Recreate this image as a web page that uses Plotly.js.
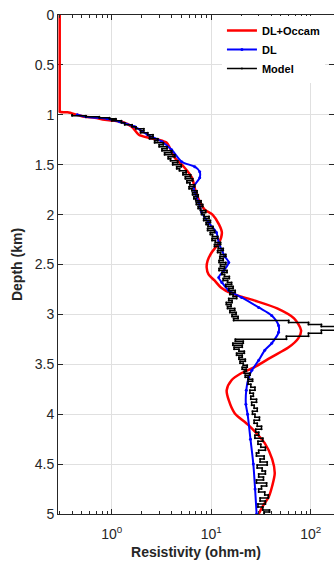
<!DOCTYPE html>
<html>
<head>
<meta charset="utf-8">
<script src="https://cdn.plot.ly/plotly-3.0.1.min.js"></script>
<style>html,body{margin:0;padding:0;background:#fff;}#chart{width:334px;height:563px;}</style>
</head>
<body>
<div id="chart"></div>
<script>
// DL+Occam (red) : depth (km) and resistivity (ohm-m)
var occamDepth = [0, 0.5, 0.96, 0.97, 0.975, 1.0, 1.02, 1.03, 1.05, 1.07, 1.12, 1.20, 1.23, 1.25, 1.28, 1.33, 1.43, 1.52, 1.63, 1.75, 1.85, 1.95, 2.00, 2.10, 2.18, 2.28, 2.38, 2.46, 2.53, 2.60, 2.66, 2.73, 2.79, 2.86, 2.94, 3.04, 3.16, 3.24, 3.33, 3.43, 3.53, 3.59, 3.66, 3.76, 3.86, 3.99, 4.11, 4.29, 4.45, 4.59, 4.72, 4.83, 4.92, 5.0];
var occamRes   = [0.30, 0.30, 0.30, 0.30, 0.36, 0.45, 0.535, 0.675, 0.85, 1.26, 1.59, 1.87, 2.35, 2.97, 3.57, 3.83, 4.3, 5.3, 6.4, 6.9, 7.5, 8.6, 10.3, 12.0, 12.8, 12.0, 10.1, 9.2, 9.0, 9.4, 10.8, 12.5, 16, 27, 46, 68, 80, 75, 60, 40, 27, 20, 16, 14.3, 15.0, 17.2, 23.7, 34.5, 41, 43.5, 41, 37.8, 33, 30];

// DL (blue)
var dlDepth = [1.0, 1.02, 1.04, 1.07, 1.12, 1.20, 1.27, 1.35, 1.47, 1.52, 1.57, 1.63, 1.73, 1.88, 1.98, 2.08, 2.18, 2.28, 2.42, 2.48, 2.56, 2.63, 2.68, 2.76, 2.83, 2.93, 3.01, 3.11, 3.18, 3.29, 3.36, 3.46, 3.56, 3.63, 3.76, 3.90, 4.00, 4.25, 4.50, 4.75, 5.0];
var dlRes   = [0.45, 0.55, 0.9, 1.2, 1.7, 2.3, 3.2, 4.0, 5.05, 6.83, 7.66, 7.66, 6.67, 7.5, 8.03, 9.4, 11.3, 11.9, 13.7, 15.0, 13.4, 11.9, 12.8, 15.0, 20.2, 30.0, 40.5, 47.5, 47.5, 40.5, 34.5, 30.0, 25.6, 23.8, 22.5, 22.3, 23.2, 24.8, 26.5, 27.6, 28.6];

// Model (black): layer top depth (km) and layer resistivity (ohm-m); last depth = bottom
var modelTop = [1.00, 1.01, 1.02, 1.03, 1.04, 1.05, 1.06, 1.08, 1.10, 1.12, 1.14, 1.16, 1.18, 1.20, 1.22, 1.24, 1.26, 1.28, 1.30, 1.32, 1.34, 1.36, 1.38, 1.40, 1.42, 1.44, 1.46, 1.48, 1.50, 1.52, 1.54, 1.56, 1.58, 1.60, 1.62, 1.64, 1.66, 1.68, 1.70, 1.72, 1.74, 1.76, 1.78, 1.80, 1.82, 1.84, 1.86, 1.88, 1.90, 1.92, 1.94, 1.96, 1.98, 2.00, 2.02, 2.04, 2.06, 2.08, 2.10, 2.12, 2.14, 2.16, 2.18, 2.20, 2.22, 2.24, 2.26, 2.28, 2.30, 2.32, 2.34, 2.36, 2.38, 2.40, 2.42, 2.44, 2.46, 2.48, 2.50, 2.52, 2.54, 2.56, 2.58, 2.60, 2.62, 2.64, 2.66, 2.68, 2.70, 2.72, 2.74, 2.76, 2.78, 2.80, 2.82, 2.84, 2.86, 2.88, 2.90, 2.92, 2.94, 2.96, 2.98, 3.00, 3.02, 3.04, 3.06, 3.08, 3.10, 3.12, 3.16, 3.19, 3.22, 3.25, 3.27, 3.29, 3.31, 3.33, 3.35, 3.37, 3.39, 3.41, 3.43, 3.45, 3.47, 3.49, 3.51, 3.53, 3.55, 3.57, 3.59, 3.61, 3.63, 3.65, 3.67, 3.70, 3.73, 3.76, 3.79, 3.82, 3.85, 3.88, 3.91, 3.94, 3.97, 4.00, 4.03, 4.06, 4.09, 4.12, 4.15, 4.18, 4.21, 4.24, 4.27, 4.30, 4.33, 4.36, 4.39, 4.42, 4.45, 4.48, 4.51, 4.54, 4.57, 4.60, 4.63, 4.66, 4.69, 4.72, 4.75, 4.78, 4.81, 4.84, 4.87, 4.90, 4.93, 4.96, 4.98, 5.00];
var modelRes = [0.40, 0.55, 0.75, 0.95, 1.1, 1.0, 1.25,
  1.35, 1.6, 1.75, 2.1, 1.95, 2.3, 2.6, 2.4, 2.9, 2.7, 3.3, 3.0, 3.6, 3.2, 4.0, 3.4, 4.3, 3.7, 3.9, 4.6, 4.1, 5.0, 4.5, 4.8, 5.6, 5.2, 6.2, 5.5, 6.5, 5.7, 6.1, 6.8, 6.0, 6.4, 7.2, 6.5, 7.4, 6.7, 7.0, 7.9, 7.1, 8.2, 7.4, 7.8, 8.8, 8.0, 8.5, 9.5, 8.4, 9.8, 8.9, 9.3, 10.4, 9.2, 10.8, 9.8, 10.3, 11.6, 10.2, 11.0, 12.4, 10.8, 11.8, 13.2, 11.6, 12.4, 14.0, 12.2, 13.2, 12.0, 14.0, 12.4, 13.6, 12.0, 14.4, 12.8, 13.6, 15.2, 13.2, 14.6, 16.0, 14.0, 16.6, 15.0, 17.4, 15.4, 16.6, 18.0, 15.0, 16.2, 14.2, 15.8, 14.6, 17.2, 15.4, 17.8, 16.2, 18.6, 16.8,
  60, 95, 128, 180, 128, 95, 57,
  17.5, 21.0, 16.5, 20.5, 17.0, 19.0, 21.5, 18.0, 20.5, 19.0, 22.0, 19.5, 21.0, 23.0, 20.5, 22.5, 21.5, 24.5, 22.0, 23.5, 26.0, 23.5,
  25.0, 27.5, 24.5, 26.5, 25.0, 28.5, 25.5, 27.0, 29.0, 26.0, 27.5, 30.5, 27.0, 29.0, 32.0, 28.0, 30.0, 27.5, 33.0, 29.5, 31.5, 35.0, 30.0, 28.5, 34.0, 31.0, 36.5, 29.0, 32.5, 35.0, 30.0, 33.5, 28.5, 36.0, 32.0, 30.0, 34.5, 37.5, 31.0, 35.0, 29.5, 33.0, 38.5, 34.0];

var seriesNames = ['DL+Occam', 'DL', 'Model'];
var xTickVals = [1, 10, 100];
var xTickText = ['10<sup>0</sup>', '10<sup>1</sup>', '10<sup>2</sup>'];

// build the staircase for the model
var mx = [], my = [];
for (var i = 0; i < modelRes.length && i + 1 < modelTop.length; i++) {
  mx.push(modelRes[i]); my.push(modelTop[i]);
  mx.push(modelRes[i]); my.push(modelTop[i + 1]);
}

var minorVals = [];
[0.1, 1, 10, 100].forEach(function (d) {
  for (var k = 2; k <= 9; k++) minorVals.push(k * d);
});

var txtColor = '#262626';
var traces = [
  {x: occamRes, y: occamDepth, name: seriesNames[0], mode: 'lines',
   line: {color: '#ff0000', width: 2.5, shape: 'spline', smoothing: 0.8}},
  {x: dlRes, y: dlDepth, name: seriesNames[1], mode: 'lines+markers',
   line: {color: '#0000ff', width: 2, shape: 'spline', smoothing: 0.8}, marker: {color: '#0000ff', size: 3}},
  {x: mx, y: my, name: seriesNames[2], mode: 'lines+markers',
   line: {color: '#000000', width: 1.5}, marker: {color: '#000000', size: 2}}
];

var layout = {
  width: 334, height: 563,
  margin: {l: 58, r: 0, t: 15, b: 49},
  paper_bgcolor: '#ffffff', plot_bgcolor: '#ffffff',
  font: {family: 'Liberation Sans, Arial, sans-serif', size: 14, color: txtColor},
  showlegend: true,
  legend: {x: 0.594, y: 0.998, xanchor: 'left', yanchor: 'top', bgcolor: '#ffffff',
           borderwidth: 0, font: {size: 11, color: '#000000', weight: 'bold'}, tracegroupgap: 0},
  xaxis: {
    type: 'log', range: [-0.54, 2.234],
    tickvals: xTickVals, ticktext: xTickText,
    ticks: 'inside', ticklen: 5, tickcolor: txtColor,
    showline: true, mirror: 'ticks', linecolor: txtColor, linewidth: 1,
    showgrid: true, gridcolor: '#e0e0e0', gridwidth: 1, zeroline: false,
    tickfont: {size: 14, color: txtColor}, ticklabelstandoff: 7,
    minor: {tickvals: minorVals, ticks: 'inside', ticklen: 3, tickcolor: txtColor, showgrid: false},
    title: {text: 'Resistivity (ohm-m)', font: {size: 14, color: txtColor, weight: 'bold'}, standoff: 6}
  },
  yaxis: {
    range: [5, 0], dtick: 0.5, tick0: 0,
    ticks: 'inside', ticklen: 5, tickcolor: txtColor,
    showline: true, mirror: 'ticks', linecolor: txtColor, linewidth: 1,
    showgrid: true, gridcolor: '#e0e0e0', gridwidth: 1, zeroline: false,
    layer: 'below traces',
    tickfont: {size: 14, color: txtColor},
    title: {text: 'Depth (km)', font: {size: 14, color: txtColor, weight: 'bold'}, standoff: 8}
  }
};

Plotly.newPlot('chart', traces, layout, {displayModeBar: false, staticPlot: true});
</script>
</body>
</html>
